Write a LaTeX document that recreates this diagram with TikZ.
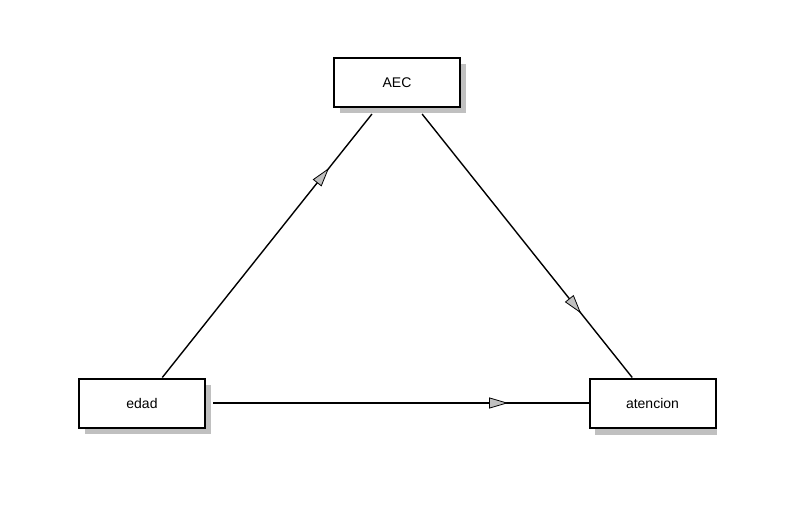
\documentclass[tikz,border=0pt]{standalone}
\usepackage{fontspec}
\setmainfont{Liberation Sans}
\usetikzlibrary{arrows.meta,decorations.markings,shadows}
\definecolor{shadowgray}{HTML}{C0C0C0}
\definecolor{tipgray}{HTML}{C0C0C0}
\tikzset{
  varbox/.style={draw=black, line width=2pt, fill=white, rectangle,
    minimum width=126pt, minimum height=49pt, inner sep=0pt,
    font=\fontsize{14}{16}\selectfont},
  boxshadow/.style={drop shadow={shadow xshift=6pt, shadow yshift=-6pt, fill=shadowgray, opacity=1}},
  conn/.style={draw=black, line width=1.4pt, postaction={decorate},
    decoration={markings, mark=at position #1 with {\arrow{Triangle[length=19pt, width=11pt, fill=tipgray, color=black, line width=0.8pt]}}}},
}
\begin{document}
\begin{tikzpicture}[x=1pt,y=-1pt]
\useasboundingbox (0,0) rectangle (788,509);
\node[varbox, boxshadow] (AEC) at (397,82.5) {\raisebox{-1.5pt}{AEC}};
\node[varbox, boxshadow] (edad) at (142,403) {\raisebox{-1.5pt}{edad}};
\fill[shadowgray] (595,429) rectangle (717,435);
\node[varbox] (atencion) at (652.5,403) {\raisebox{-1.5pt}{atencion}};
\draw[conn=0.777, shorten >=7.7pt] (edad) -- (AEC);
\draw[conn=0.762, shorten <=7.7pt] (AEC) -- (atencion);
\draw[conn=0.79, shorten <=7pt] (edad) -- (atencion);
\end{tikzpicture}
\end{document}
